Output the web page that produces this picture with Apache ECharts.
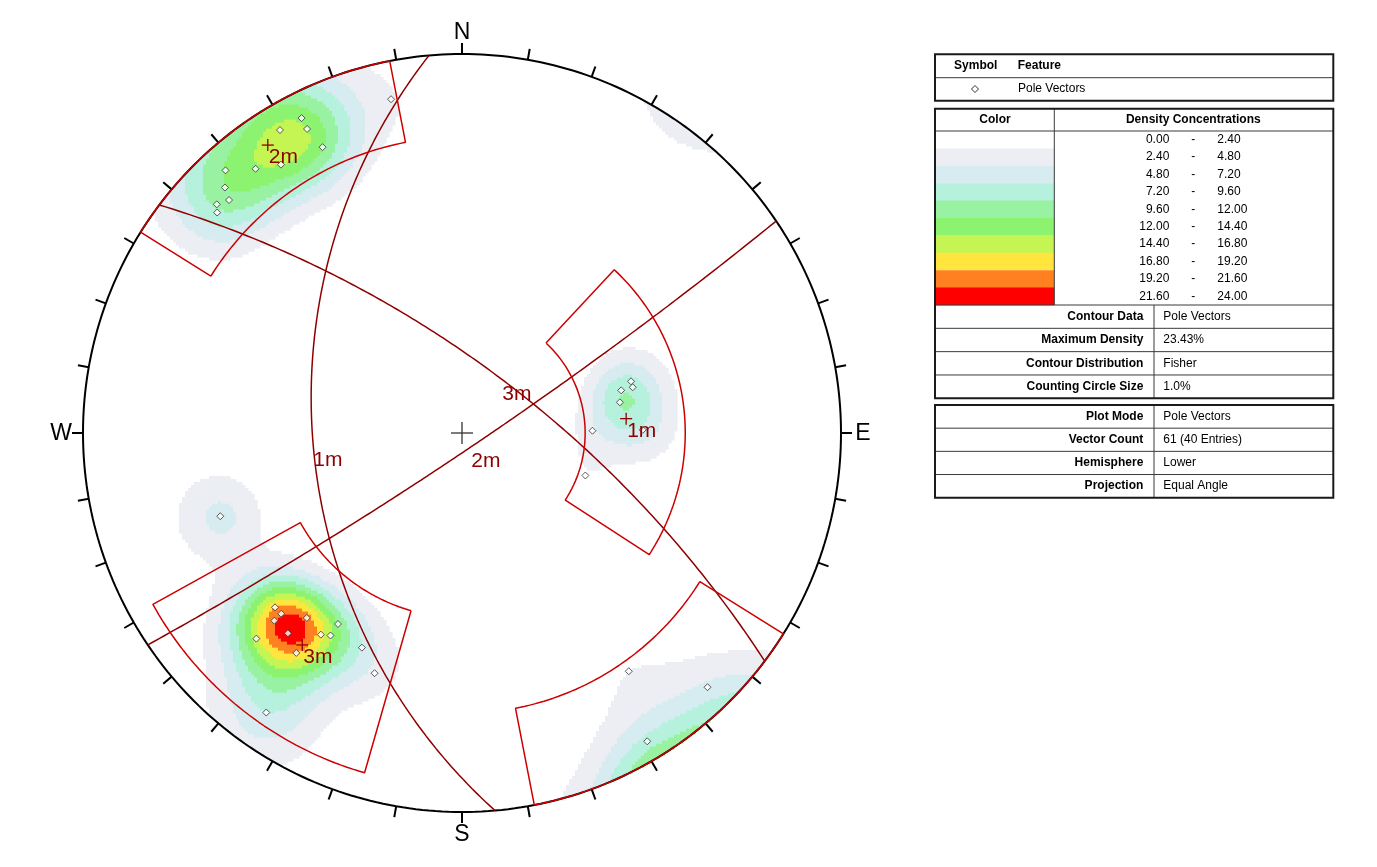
<!DOCTYPE html>
<html>
<head>
<meta charset="utf-8">
<script src="https://cdn.jsdelivr.net/npm/echarts@6/dist/echarts.min.js"></script>
<style>
html, body { margin: 0; padding: 0; background: #fff; }
#chart { width: 1377px; height: 867px; }
</style>
</head>
<body>
<div id="chart"></div>
<script>
// ---- data read off the stereonet ----
// pole vectors: trend / plunge in degrees, weight = quantity
var poleTrend  = [333, 329, 333, 334, 326, 322, 318, 316, 315, 313, 312, 348,
                  227, 225, 225, 220, 221, 225, 215, 213, 213, 217, 205, 200, 215,
                  73, 75, 75, 79, 89, 89, 109,
                  145, 136, 149,
                  251];
var polePlunge = [4, 4, 6, 10, 9, 7, 4, 6, 8, 7, 8, 6,
                  22, 22, 20, 25, 20, 15, 24, 25, 28, 18, 26, 22, 6,
                  40, 40, 43, 44, 39, 52, 52,
                  15, 4, 3,
                  22];
var poleWeight = [1, 2, 2, 2, 2, 1, 1, 1, 1, 1, 1, 1,
                  2, 2, 2, 2, 3, 1, 1, 1, 1, 2, 1, 1, 3,
                  1, 1, 1, 2, 2, 1, 1,
                  1, 1, 1,
                  3];

// mean set poles (the planes are drawn from them)
var setNames      = ['1m', '2m', '3m'];
var setPoleTrend  = [85, 326, 217];
var setPolePlunge = [43, 5, 20];

// set windows: trend range and plunge range
var winTrendFrom = [302, 122, 196, 43];
var winTrendTo   = [349, 169, 241, 123];
var winPlungeMin = [0, 0, 4, 29];
var winPlungeMax = [14, 17, 38, 54];

// contour legend
var levelBreaks = [0, 2.4, 4.8, 7.2, 9.6, 12, 14.4, 16.8, 19.2, 21.6, 24];
var levelColors = ['#ffffff', '#eceef3', '#d6ecf0', '#b5f1dd', '#99f2a2',
                   '#8cf370', '#c5f552', '#ffe53d', '#ff8020', '#ff0000'];
var maxDensity = 23.43;
var fisherK = 74;

var infoLabels1 = ['Contour Data', 'Maximum Density', 'Contour Distribution', 'Counting Circle Size'];
var infoValues1 = ['Pole Vectors', '23.43%', 'Fisher', '1.0%'];
var infoLabels2 = ['Plot Mode', 'Vector Count', 'Hemisphere', 'Projection'];
var infoValues2 = ['Pole Vectors', '61 (40 Entries)', 'Lower', 'Equal Angle'];

var cardinalAz   = [0, 90, 180, 270];
var cardinalText = ['N', 'E', 'S', 'W'];

// ---- geometry ----
var D2R = Math.PI / 180;
var R = 379, CX = 462, CY = 433;
var plotFont = '"Liberation Sans", Arial, sans-serif';

function toVec(trend, plunge) {
  var t = trend * D2R, p = plunge * D2R;
  return [Math.cos(p) * Math.sin(t), Math.cos(p) * Math.cos(t), Math.sin(p)];
}
// equal angle, lower hemisphere
function vecProj(v) {
  var s = v[2] < 0 ? -1 : 1;
  return [s * v[0] / (1 + s * v[2]), s * v[1] / (1 + s * v[2])];
}
function proj(trend, plunge) {
  var r = Math.tan((90 - plunge) / 2 * D2R);
  return [r * Math.sin(trend * D2R), r * Math.cos(trend * D2R)];
}

// density grid (Fisher, summed over poles, scaled to the stated maximum)
var poleVec = poleTrend.map(function (t, i) { return toVec(t, polePlunge[i]); });
var cellPx = 3;
var step = cellPx / R;
var nCell = Math.ceil(2 / step);
var raw = [], rawMax = 0;
for (var i = 0; i < nCell; i++) {
  for (var j = 0; j < nCell; j++) {
    var x = -1 + (i + 0.5) * step, y = -1 + (j + 0.5) * step;
    var rr = x * x + y * y;
    if (rr > 1) continue;
    var e = 2 * x / (1 + rr), n = 2 * y / (1 + rr), d = (1 - rr) / (1 + rr);
    var s = 0;
    for (var k = 0; k < poleVec.length; k++) {
      var p = poleVec[k];
      var c = e * p[0] + n * p[1] + d * p[2];
      s += poleWeight[k] * (Math.exp(fisherK * (c - 1)) + Math.exp(fisherK * (-c - 1)));
    }
    raw.push([x, y, s]);
    if (s > rawMax) rawMax = s;
  }
}
var cells = [];
raw.forEach(function (r) {
  var dens = r[2] * maxDensity / rawMax;
  var lvl = 0;
  while (lvl < levelColors.length - 1 && dens >= levelBreaks[lvl + 1]) lvl++;
  if (lvl > 0) cells.push([r[0], r[1], lvl]);
});

var primitive = [];
for (var a = 0; a <= 360; a++) primitive.push([Math.sin(a * D2R), Math.cos(a * D2R)]);

var tickAz = [];
for (var a2 = 0; a2 < 360; a2 += 10) tickAz.push([Math.sin(a2 * D2R), Math.cos(a2 * D2R)]);

function greatCircle(dd, dip) {
  var sv = [Math.sin((dd - 90) * D2R), Math.cos((dd - 90) * D2R), 0];
  var dv = toVec(dd, dip);
  var pts = [];
  for (var t = 0; t <= 180; t++) {
    var co = Math.cos(t * D2R), si = Math.sin(t * D2R);
    pts.push(vecProj([co * sv[0] + si * dv[0], co * sv[1] + si * dv[1], co * sv[2] + si * dv[2]]));
  }
  return pts;
}

function windowPath(i) {
  var pts = [], t;
  for (t = winTrendFrom[i]; t <= winTrendTo[i]; t++) pts.push(proj(t, winPlungeMax[i]));
  for (t = winTrendTo[i]; t >= winTrendFrom[i]; t--) pts.push(proj(t, winPlungeMin[i]));
  pts.push(proj(winTrendFrom[i], winPlungeMax[i]));
  return pts;
}

var setPoles = setNames.map(function (nm, i) { return proj(setPoleTrend[i], setPolePlunge[i]).concat([i]); });
var setDips = setNames.map(function (nm, i) { return proj((setPoleTrend[i] + 180) % 360, 90 - setPolePlunge[i]).concat([i]); });
var poles = poleTrend.map(function (t, i) { return proj(t, polePlunge[i]); });

function txt(str, x, y, font, fill, align, valign) {
  return { type: 'text', x: x, y: y,
    style: { text: str, font: font, fill: fill, align: align, verticalAlign: valign,
             textAlign: align, textVerticalAlign: valign } };
}

var series = [];
series.push({
  type: 'custom', name: 'density', z: 1, progressive: 0, clip: false, silent: true,
  data: cells,
  renderItem: function (params, api) {
    var h = step / 2;
    var p0 = api.coord([api.value(0) - h, api.value(1) + h]);
    var p1 = api.coord([api.value(0) + h, api.value(1) - h]);
    return { type: 'rect', shape: { x: p0[0], y: p0[1], width: p1[0] - p0[0] + 0.6, height: p1[1] - p0[1] + 0.6 },
             style: { fill: levelColors[api.value(2)] } };
  }
});
series.push({ type: 'line', z: 2, data: primitive, symbol: 'none', silent: true,
  lineStyle: { color: '#000', width: 2 } });
series.push({
  type: 'custom', z: 2, silent: true, clip: false, data: tickAz,
  renderItem: function (params, api) {
    var p0 = api.coord([api.value(0), api.value(1)]);
    var c = api.coord([0, 0]);
    var dx = p0[0] - c[0], dy = p0[1] - c[1], L = Math.sqrt(dx * dx + dy * dy);
    return { type: 'line', shape: { x1: p0[0], y1: p0[1], x2: p0[0] + dx / L * 11, y2: p0[1] + dy / L * 11 },
             style: { stroke: '#000', lineWidth: 2 } };
  }
});
series.push({
  type: 'custom', z: 2, silent: true, clip: false,
  data: cardinalAz.map(function (az, i) { return [Math.sin(az * D2R), Math.cos(az * D2R), i]; }),
  renderItem: function (params, api) {
    var p0 = api.coord([api.value(0), api.value(1)]);
    var c = api.coord([0, 0]);
    var dx = p0[0] - c[0], dy = p0[1] - c[1], L = Math.sqrt(dx * dx + dy * dy);
    return txt(cardinalText[api.value(2)], p0[0] + dx / L * 22, p0[1] + dy / L * 22 + 1,
               '23px ' + plotFont, '#000', 'center', 'middle');
  }
});
setNames.forEach(function (nm, i) {
  series.push({ type: 'line', z: 3, data: greatCircle((setPoleTrend[i] + 180) % 360, 90 - setPolePlunge[i]),
    symbol: 'none', silent: true, lineStyle: { color: '#8e0000', width: 1.5 } });
});
winTrendFrom.forEach(function (t, i) {
  series.push({ type: 'line', z: 4, data: windowPath(i), symbol: 'none', silent: true,
    lineStyle: { color: '#cc0000', width: 1.5 } });
});
series.push({ type: 'scatter', z: 5, data: poles, symbol: 'diamond', symbolSize: 7, silent: true,
  itemStyle: { color: '#fff', borderColor: '#333', borderWidth: 1 } });
// centre cross
series.push({
  type: 'custom', z: 6, silent: true, clip: false, data: [[0, 0]],
  renderItem: function (params, api) {
    var c = api.coord([0, 0]);
    return { type: 'group', children: [
      { type: 'line', shape: { x1: c[0] - 11, y1: c[1], x2: c[0] + 11, y2: c[1] }, style: { stroke: '#333', lineWidth: 1.3 } },
      { type: 'line', shape: { x1: c[0], y1: c[1] - 11, x2: c[0], y2: c[1] + 11 }, style: { stroke: '#333', lineWidth: 1.3 } }
    ] };
  }
});
// mean set poles
series.push({
  type: 'custom', z: 6, silent: true, clip: false, data: setPoles,
  renderItem: function (params, api) {
    var p = api.coord([api.value(0), api.value(1)]);
    return { type: 'group', children: [
      { type: 'line', shape: { x1: p[0] - 6, y1: p[1], x2: p[0] + 6, y2: p[1] }, style: { stroke: '#8e0000', lineWidth: 1.3 } },
      { type: 'line', shape: { x1: p[0], y1: p[1] - 6, x2: p[0], y2: p[1] + 6 }, style: { stroke: '#8e0000', lineWidth: 1.3 } },
      txt(setNames[api.value(2)], p[0] + 1, p[1] + 2, '21px ' + plotFont, '#8e0000', 'left', 'top')
    ] };
  }
});
// plane labels at the dip point
series.push({
  type: 'custom', z: 6, silent: true, clip: false, data: setDips,
  renderItem: function (params, api) {
    var p = api.coord([api.value(0), api.value(1)]);
    return txt(setNames[api.value(2)], p[0], p[1] + 4, '21px ' + plotFont, '#8e0000', 'left', 'top');
  }
});

// ---- legend tables ----
var g = [];
var tFont = '12px ' + plotFont, bFont = 'bold 12px ' + plotFont;
function gRect(x, y, w, h, fill) { g.push({ type: 'rect', shape: { x: x, y: y, width: w, height: h }, style: { fill: fill }, z: 10 }); }
function gBox(x, y, w, h) { g.push({ type: 'rect', shape: { x: x, y: y, width: w, height: h }, style: { fill: 'none', stroke: '#1a1a1a', lineWidth: 2 }, z: 12 }); }
function gH(x1, x2, y) { g.push({ type: 'line', shape: { x1: x1, y1: y, x2: x2, y2: y }, style: { stroke: '#3a3a3a', lineWidth: 1 }, z: 11 }); }
function gV(x, y1, y2) { g.push({ type: 'line', shape: { x1: x, y1: y1, x2: x, y2: y2 }, style: { stroke: '#3a3a3a', lineWidth: 1 }, z: 11 }); }
function gT(str, x, y, align, font) { var t = txt(str, x, y, font, '#000', align, 'middle'); t.z = 13; g.push(t); }

var TL = 935, TR = 1333.3, TW = TR - TL;
// symbol / feature
gBox(TL, 54.3, TW, 46.4);
gH(TL, TR, 77.7);
gT('Symbol', 975.7, 66, 'center', bFont);
gT('Feature', 1017.7, 66, 'left', bFont);
g.push({ type: 'polygon', shape: { points: [[975, 85.5], [978.5, 89], [975, 92.5], [971.5, 89]] },
         style: { fill: '#fff', stroke: '#333', lineWidth: 1 }, z: 13 });
gT('Pole Vectors', 1018, 89, 'left', tFont);

// colour / density
var rowH = 17.4, rowTop = 131;
levelColors.forEach(function (col, i) {
  gRect(TL + 1, rowTop + i * rowH, 1054.3 - TL - 1, rowH + 0.3, col);
  var yc = rowTop + (i + 0.5) * rowH;
  gT(levelBreaks[i].toFixed(2), 1169.3, yc, 'right', tFont);
  gT('-', 1193.3, yc, 'center', tFont);
  gT(levelBreaks[i + 1].toFixed(2), 1217.3, yc, 'left', tFont);
});
gBox(TL, 108.7, TW, 289.6);
gH(TL, TR, 131);
gV(1054.3, 108.7, 305);
gT('Color', 995, 120, 'center', bFont);
gT('Density Concentrations', 1193.3, 120, 'center', bFont);
gH(TL, TR, 305);
gV(1154, 305, 398.3);
var infoH = (398.3 - 305) / 4;
infoLabels1.forEach(function (lb, i) {
  if (i > 0) gH(TL, TR, 305 + i * infoH);
  gT(lb, 1143.3, 305 + (i + 0.5) * infoH, 'right', bFont);
  gT(infoValues1[i], 1163.3, 305 + (i + 0.5) * infoH, 'left', tFont);
});

// plot info
gBox(TL, 405, TW, 92.7);
gV(1154, 405, 497.7);
var infoH2 = 92.7 / 4;
infoLabels2.forEach(function (lb, i) {
  if (i > 0) gH(TL, TR, 405 + i * infoH2);
  gT(lb, 1143.3, 405 + (i + 0.5) * infoH2, 'right', bFont);
  gT(infoValues2[i], 1163.3, 405 + (i + 0.5) * infoH2, 'left', tFont);
});

var chart = echarts.init(document.getElementById('chart'));
chart.setOption({
  animation: false,
  backgroundColor: '#fff',
  grid: { left: CX - R, top: CY - R, width: 2 * R, height: 2 * R },
  xAxis: { type: 'value', min: -1, max: 1, show: false },
  yAxis: { type: 'value', min: -1, max: 1, show: false },
  series: series,
  graphic: { elements: g }
});
</script>
</body>
</html>
